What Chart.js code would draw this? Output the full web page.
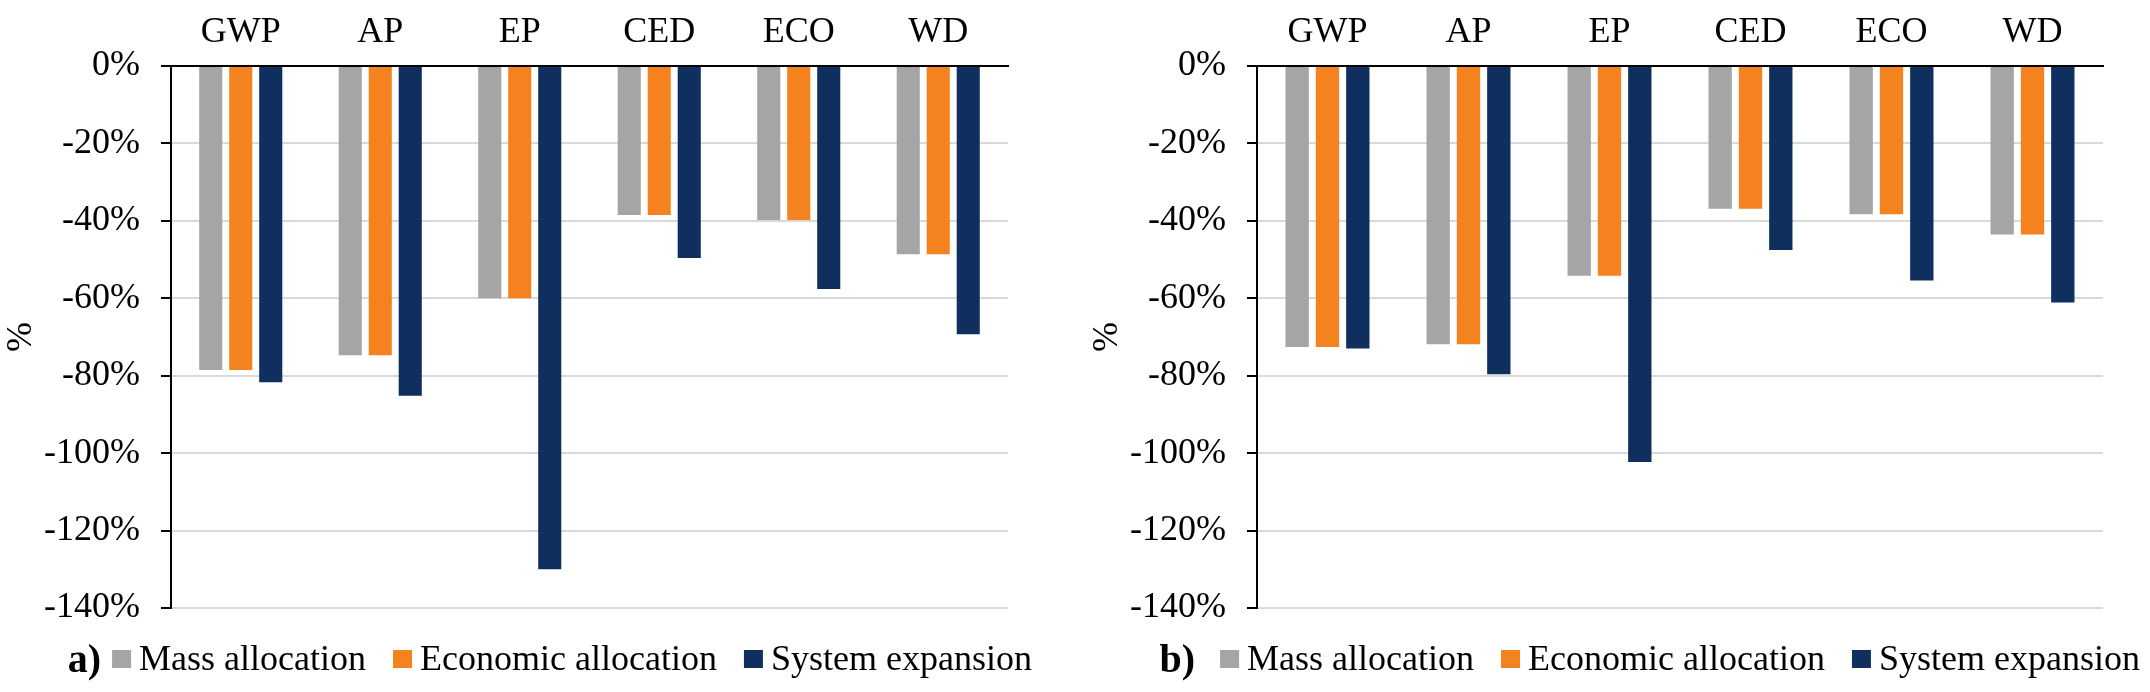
<!DOCTYPE html>
<html>
<head>
<meta charset="utf-8">
<script src="https://cdn.jsdelivr.net/npm/chart.js@4.4.0/dist/chart.umd.min.js"></script>
<style>
  html, body { margin: 0; padding: 0; background: #fff; }
  #wrap { position: relative; width: 2150px; height: 692px; }
  .caja { position: absolute; top: 0; width: 1075px; height: 692px; }
</style>
</head>
<body>
<div id="wrap">
  <div class="caja" style="left:0"><canvas id="graficoA" width="1075" height="692"></canvas></div>
  <div class="caja" style="left:1075px"><canvas id="graficoB" width="1075" height="692"></canvas></div>
</div>
<script>
// categorias y series
const categorias = ["GWP", "AP", "EP", "CED", "ECO", "WD"];
const nombresSeries = ["Mass allocation", "Economic allocation", "System expansion"];
const colores = ["#A5A5A5", "#F4821F", "#0F2F5F"];
const marcasY = [0, -20, -40, -60, -80, -100, -120, -140];

// a) valores en %
const masaA = [-78.5, -74.7, -60.0, -38.5, -39.8, -48.6];
const economicoA = [-78.5, -74.7, -60.0, -38.5, -39.8, -48.6];
const expansionA = [-81.7, -85.2, -130.0, -49.6, -57.6, -69.3];

// b) valores en %
const masaB = [-72.6, -71.9, -54.2, -36.9, -38.3, -43.5];
const economicoB = [-72.6, -71.9, -54.2, -36.9, -38.3, -43.5];
const expansionB = [-73.0, -79.6, -102.3, -47.5, -55.4, -61.1];

const FUENTE = '"Liberation Serif", "Times New Roman", serif';
Chart.defaults.font.family = FUENTE;
Chart.defaults.color = "#000";

// leyenda en linea con la letra del panel delante
const leyendaInline = {
  id: "leyendaInline",
  afterDraw(chart, args, opts) {
    const ctx = chart.ctx;
    ctx.save();
    ctx.font = "36px " + FUENTE;
    ctx.textBaseline = "alphabetic";
    const items = chart.data.datasets.map(d => ({
      texto: d.label, color: d.backgroundColor, w: ctx.measureText(d.label).width
    }));
    const total = items.reduce((s, it) => s + 20 + 7 + it.w, 0) + 27 * (items.length - 1);
    let x = opts.centroX - total / 2;
    const base = 670;
    items.forEach(it => {
      ctx.fillStyle = it.color;
      ctx.fillRect(x, 650, 19, 18);
      ctx.fillStyle = "#000";
      ctx.textAlign = "left";
      ctx.fillText(it.texto, x + 27, base);
      x += 27 + it.w + 27;
    });
    ctx.font = "bold 40px " + FUENTE;
    ctx.textAlign = "right";
    ctx.fillText(opts.letra, opts.letraX, base + 2);
    ctx.restore();
  }
};

function crearGrafico(id, masa, economico, expansion, letra, cfg) {
  const valores = [masa, economico, expansion];
  return new Chart(document.getElementById(id), {
    type: "bar",
    data: {
      labels: categorias,
      datasets: nombresSeries.map((n, i) => ({
        label: n,
        data: valores[i],
        backgroundColor: colores[i],
        borderWidth: 0,
        categoryPercentage: 0.645,
        barPercentage: 0.77
      }))
    },
    options: {
      responsive: false,
      animation: false,
      layout: { padding: { left: cfg.padIzq, right: cfg.padDer, top: 0, bottom: 84 } },
      plugins: {
        legend: { display: false },
        tooltip: { enabled: false },
        leyendaInline: { letra: letra, letraX: cfg.letraX, centroX: cfg.centroX }
      },
      scales: {
        x: {
          position: "top",
          grid: { display: false, drawTicks: false },
          border: { color: "#000", width: 2 },
          ticks: { font: { size: 36 }, color: "#000", padding: 12 },
          afterFit: s => { s.height = 66; }
        },
        y: {
          min: -140,
          max: 0,
          afterBuildTicks: s => { s.ticks = marcasY.map(v => ({ value: v })); },
          ticks: { font: { size: 36 }, color: "#000", padding: 21, callback: v => v + "%" },
          grid: { color: "#D9D9D9", lineWidth: 2, tickColor: "#000", tickLength: 10, tickWidth: 2 },
          border: { color: "#000", width: 2 },
          title: { display: true, text: "%", font: { size: 36 }, color: "#000", padding: 0 },
          afterFit: s => { s.width = 171; }
        }
      }
    },
    plugins: [leyendaInline]
  });
}

crearGrafico("graficoA", masaA, economicoA, expansionA, "a)",
  { padIzq: 0, padDer: 67, letraX: 101, centroX: 572 });
crearGrafico("graficoB", masaB, economicoB, expansionB, "b)",
  { padIzq: 11, padDer: 47, letraX: 120, centroX: 605 });
</script>
</body>
</html>
